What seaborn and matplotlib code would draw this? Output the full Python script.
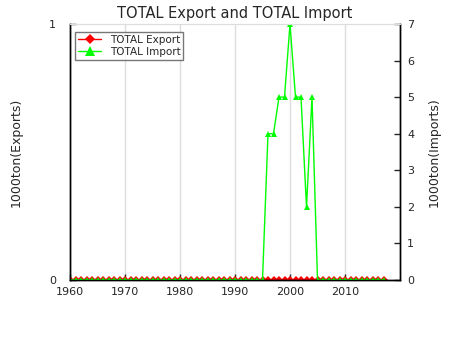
import numpy as np
import pandas as pd
import matplotlib
matplotlib.use("Agg")
import matplotlib.pyplot as plt
import seaborn as sns

years = list(range(1960, 2018))
export_vals = [0] * len(years)
import_vals = [0] * 36 + [4, 4, 5, 5, 7, 5, 5, 2, 5] + [0] * 13

sns.set_style("white")
plt.rcParams['font.family'] = ['DejaVu Sans']

df_exp = pd.DataFrame({"year": years, "val": export_vals})
df_imp = pd.DataFrame({"year": years, "val": import_vals})

fig = plt.figure(figsize=(4.5, 3.5), dpi=100)
ax = fig.add_axes([70/450, 1-280/350, 330/450, 256/350])
ax2 = ax.twinx()

sns.lineplot(data=df_exp, x="year", y="val", ax=ax, color="red", marker="D",
             markersize=4, markeredgewidth=0, linewidth=1, label="TOTAL Export", legend=False)
sns.lineplot(data=df_imp, x="year", y="val", ax=ax2, color="#00ff00", marker="^",
             markersize=5, markeredgewidth=0, linewidth=1, label="TOTAL Import", legend=False)

ax.set_xlim(1960, 2020)
ax.set_ylim(0, 1)
ax2.set_ylim(0, 7)
ax.set_yticks([0, 1])
ax2.set_yticks(range(0, 8))
ax.set_xticks(range(1960, 2020, 10))
ax.set_xticks(range(1965, 2020, 10), minor=True)
ax.xaxis.grid(True, color="#dddddd", linewidth=1)
ax.set_axisbelow(True)

ax.set_xlabel("")
ax.set_ylabel("1000ton(Exports)", fontsize=9, labelpad=19)
ax2.set_ylabel("1000ton(Imports)", fontsize=9, labelpad=10)
ax.set_title("TOTAL Export and TOTAL Import", fontsize=10.5, pad=4)

for a in (ax, ax2):
    a.tick_params(axis="both", direction="in", labelsize=8, length=4, width=1, pad=5)
    a.tick_params(which="minor", direction="in", length=2, width=1)
    for s in ("left", "right", "bottom"):
        a.spines[s].set_color("black")
        a.spines[s].set_linewidth(1)
    a.spines["top"].set_color("#dddddd")
ax.tick_params(axis="x", which="both", bottom=True, top=False)
ax.tick_params(axis="y", pad=10)

h1, l1 = ax.get_legend_handles_labels()
h2, l2 = ax2.get_legend_handles_labels()
leg = ax.legend(h1 + h2, l1 + l2, loc="upper left", fontsize=7.5, frameon=True,
                fancybox=False, edgecolor="#555555", borderpad=0.3, markerscale=1.4,
                handlelength=2.2, labelspacing=0.2, bbox_to_anchor=(0.0, 0.99))
leg.get_frame().set_linewidth(1)
leg.set_zorder(10)

fig.savefig("out.png", dpi=100)
